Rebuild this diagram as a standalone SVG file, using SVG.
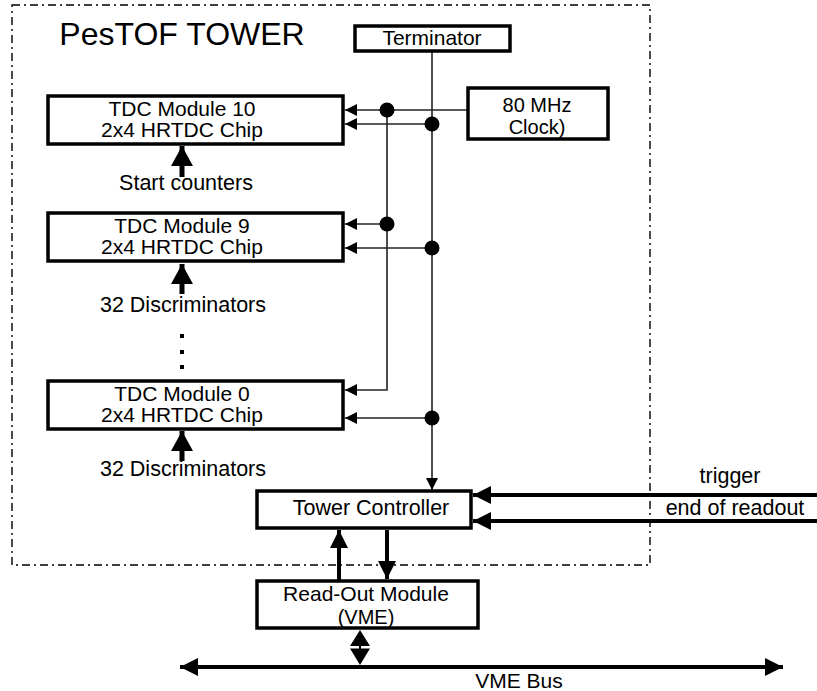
<svg xmlns="http://www.w3.org/2000/svg" width="817" height="691" viewBox="0 0 817 691">
<style>
text{font-family:"Liberation Sans",Arial,sans-serif;fill:#000;text-anchor:middle}
.box{fill:#fff;stroke:#000;stroke-width:3.5}
.thin{fill:none;stroke:#222;stroke-width:1.6}
.thick{fill:none;stroke:#000;stroke-width:4}
.shaft{fill:none;stroke:#000;stroke-width:5}
.dot{fill:#000}
.t19{font-size:20px}
.t20{font-size:21px}
.t21{font-size:21.5px}
</style>
<defs>
<marker id="ah" markerUnits="userSpaceOnUse" markerWidth="13" markerHeight="13" refX="12" refY="6" orient="auto">
<path d="M0,0 L12,6 L0,12 z" fill="#000"/>
</marker>
<marker id="ahb" markerUnits="userSpaceOnUse" markerWidth="20" markerHeight="20" refX="18" refY="9" orient="auto">
<path d="M0,0 L18,9 L0,18 z" fill="#000"/>
</marker>
<marker id="ahu" markerUnits="userSpaceOnUse" markerWidth="24" markerHeight="24" refX="20" refY="11" orient="auto">
<path d="M0,0 L20,11 L0,22 z" fill="#000"/>
</marker>
</defs>
<rect x="12" y="5" width="638" height="560" fill="none" stroke="#000" stroke-width="1.4" stroke-dasharray="8 4 2 4"/>
<text x="182" y="45" style="font-size:32px">PesTOF TOWER</text>
<g id="connectors">
<path class="thin" d="M432,52 V490" marker-end="url(#ah)"/>
<path class="thin" d="M468,110 H345" marker-end="url(#ah)"/>
<path class="thin" d="M387,110 V390 H345" marker-end="url(#ah)"/>
<path class="thin" d="M387,224 H345" marker-end="url(#ah)"/>
<path class="thin" d="M432,124 H345" marker-end="url(#ah)"/>
<path class="thin" d="M432,248 H345" marker-end="url(#ah)"/>
<path class="thin" d="M432,418 H345" marker-end="url(#ah)"/>
<circle class="dot" cx="387" cy="110" r="7.5"/>
<circle class="dot" cx="387" cy="224" r="7.5"/>
<circle class="dot" cx="432" cy="124" r="7.5"/>
<circle class="dot" cx="432" cy="248" r="7.5"/>
<circle class="dot" cx="432" cy="418" r="7.5"/>
<path class="shaft" d="M182,177 V146" marker-end="url(#ahu)"/>
<path class="shaft" d="M182,294 V264" marker-end="url(#ahu)"/>
<path class="shaft" d="M182,461 V431" marker-end="url(#ahu)"/>
<path class="thick" d="M817,495 H473" marker-end="url(#ahb)"/>
<path class="thick" d="M817,521 H473" marker-end="url(#ahb)"/>
<path class="thick" d="M339,580 V530" marker-end="url(#ahb)"/>
<path class="thick" d="M387,530 V579" marker-end="url(#ahb)"/>
<path d="M360,646 V649" stroke="#000" stroke-width="2"/>
<path d="M360,630 L350,646 H370 Z M350,648.5 H370 L360,665 Z" fill="#000"/>
<path class="thick" d="M470,667 H180" marker-end="url(#ahb)"/>
<path class="thick" d="M470,667 H783" marker-end="url(#ahb)"/>
</g>
<g id="terminator">
<rect class="box" x="355" y="26" width="155" height="25"/>
<text class="t20" x="432" y="45">Terminator</text>
</g>
<g id="clock">
<rect class="box" x="468" y="88" width="140" height="51"/>
<text class="t19" x="537" y="112">80 MHz</text>
<text class="t19" x="537" y="134">Clock)</text>
</g>
<g id="tdc10">
<rect class="box" x="48" y="96" width="295" height="48"/>
<text class="t20" x="182" y="116">TDC Module 10</text>
<text class="t20" x="182" y="137">2x4 HRTDC Chip</text>
</g>
<text class="t21" x="186" y="190">Start counters</text>
<g id="tdc9">
<rect class="box" x="48" y="213" width="295" height="48"/>
<text class="t20" x="182" y="233">TDC Module 9</text>
<text class="t20" x="182" y="254">2x4 HRTDC Chip</text>
</g>
<text class="t21" x="183" y="312">32 Discriminators</text>
<rect x="180" y="334" width="4" height="4"/>
<rect x="180" y="350" width="4" height="4"/>
<rect x="180" y="365" width="4" height="4"/>
<g id="tdc0">
<rect class="box" x="48" y="381" width="295" height="48"/>
<text class="t20" x="182" y="401">TDC Module 0</text>
<text class="t20" x="182" y="422">2x4 HRTDC Chip</text>
</g>
<text class="t21" x="183" y="476">32 Discriminators</text>
<g id="tower-controller">
<rect class="box" x="257" y="491" width="214" height="37"/>
<text class="t21" x="371" y="515">Tower Controller</text>
</g>
<text class="t21" x="730" y="483">trigger</text>
<text class="t21" x="735" y="515">end of readout</text>
<g id="readout">
<rect class="box" x="257" y="581" width="221" height="47"/>
<text class="t20" x="366" y="601">Read-Out Module</text>
<text class="t19" x="366" y="624">(VME)</text>
</g>
<text class="t20" x="519" y="688">VME Bus</text>
</svg>
